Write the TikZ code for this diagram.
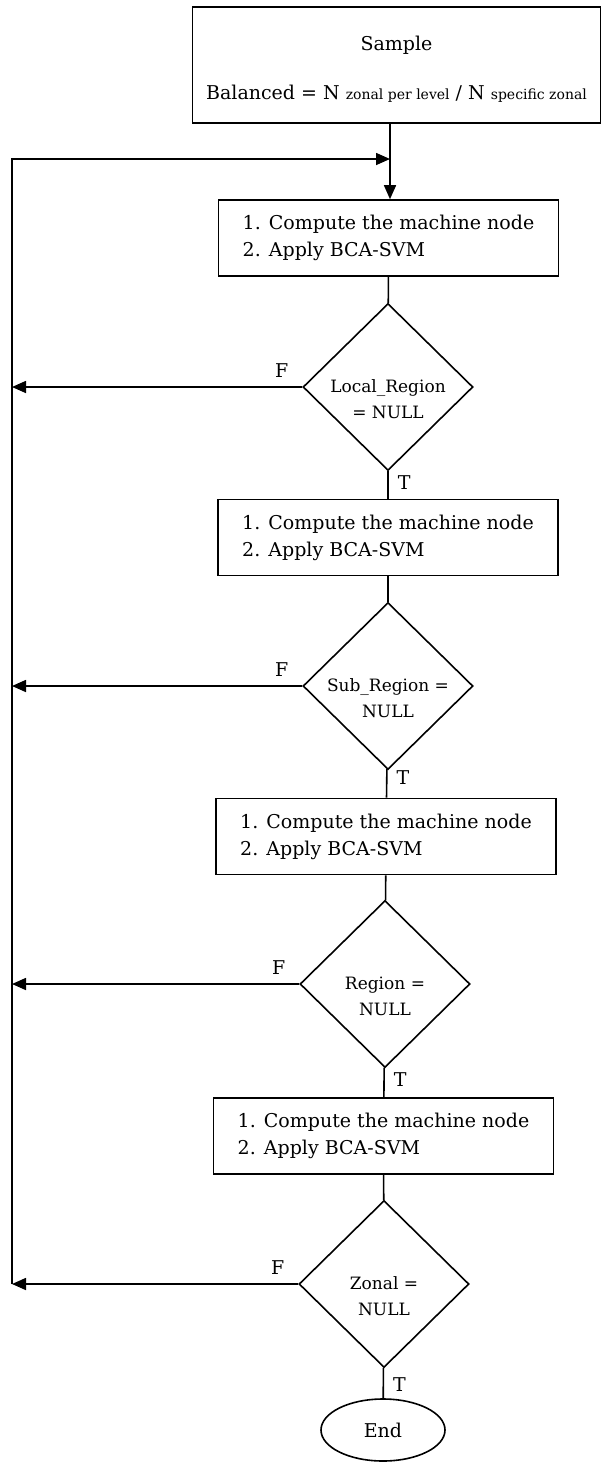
\documentclass[tikz,border=0pt]{standalone}
\usepackage{fontspec}
\setmainfont{DejaVu Serif}
\usetikzlibrary{shapes,arrows.meta}

\begin{document}
\begin{tikzpicture}[x=1pt,y=-1pt,line width=1.6pt,
  proc/.style={shape=rectangle,draw=black,align=left,font=\fontsize{19}{27}\selectfont,minimum width=340pt,minimum height=76pt,inner sep=0pt},
  test/.style={shape=diamond,draw=black,minimum width=170pt,minimum height=167pt,inner sep=0pt},
  txt/.style={align=center,font=\fontsize{17}{26}\selectfont,inner sep=0pt,yshift=-12pt},
  flag/.style={font=\fontsize{19}{19}\selectfont,inner sep=0pt},
  arr/.style={-{Triangle[length=14pt,width=12pt]}}]
\useasboundingbox (0,0) rectangle (602,1462);

\node[shape=rectangle,draw=black,align=center,minimum width=408pt,minimum height=116pt,inner sep=0pt,font=\fontsize{19}{27}\selectfont] (0) at (396.5,65) {\rule{0pt}{22pt}Sample\\[22pt]Balanced = N {\fontsize{14}{14}\selectfont zonal per level} / N {\fontsize{14}{14}\selectfont specific zonal}};
\node[proc] (1) at (388.5,238) {1. Compute the machine node\\2. Apply BCA-SVM};
\node[test,label={[txt]center:{Local\_Region\\= NULL}}] (2) at (388,387) {};
\node[proc] (3) at (388,537.5) {1. Compute the machine node\\2. Apply BCA-SVM};
\node[test,label={[txt]center:{Sub\_Region =\\NULL}}] (4) at (388,686) {};
\node[proc] (5) at (386,836.5) {1. Compute the machine node\\2. Apply BCA-SVM};
\node[test,label={[txt]center:{Region =\\NULL}}] (6) at (385,984) {};
\node[proc] (7) at (383.5,1136) {1. Compute the machine node\\2. Apply BCA-SVM};
\node[test,label={[txt]center:{Zonal =\\NULL}}] (8) at (384,1284) {};
\node[shape=ellipse,draw=black,minimum width=124pt,minimum height=62pt,inner sep=0pt,font=\fontsize{19}{19}\selectfont] (9) at (383,1430) {End};

\coordinate (10) at (390,159);
\coordinate (11) at (12,159);
\coordinate (12) at (12,1284);

\path [draw=black] (0.south -| 10) edge (10);
\path [draw=black] (10) edge[arr] (10 |- 1.north);
\path [draw=black] (1) edge (2);
\path [draw=black] (2) edge node[flag,right=9pt,pos=0.41] {T} (3);
\path [draw=black] (3) edge (4);
\path [draw=black] (4) edge node[flag,right=9pt,pos=0.3] {T} (5);
\path [draw=black] (5) edge (6);
\path [draw=black] (6) edge node[flag,right=9pt,pos=0.39] {T} (7);
\path [draw=black] (7) edge (8);
\path [draw=black] (8) edge node[flag,right=9pt,pos=0.55] {T} (9);

\path [draw=black] (2.west) edge[arr] node[flag,pos=0,anchor=south east,xshift=-13pt,yshift=9pt] {F} (2.west -| 11);
\path [draw=black] (4.west) edge[arr] node[flag,pos=0,anchor=south east,xshift=-13pt,yshift=9pt] {F} (4.west -| 11);
\path [draw=black] (6.west) edge[arr] node[flag,pos=0,anchor=south east,xshift=-13pt,yshift=9pt] {F} (6.west -| 11);
\path [draw=black] (8.west) edge[arr] node[flag,pos=0,anchor=south east,xshift=-13pt,yshift=9pt] {F} (12);
\draw [arr] (12) -- (11) -- (10);
\end{tikzpicture}
\end{document}
